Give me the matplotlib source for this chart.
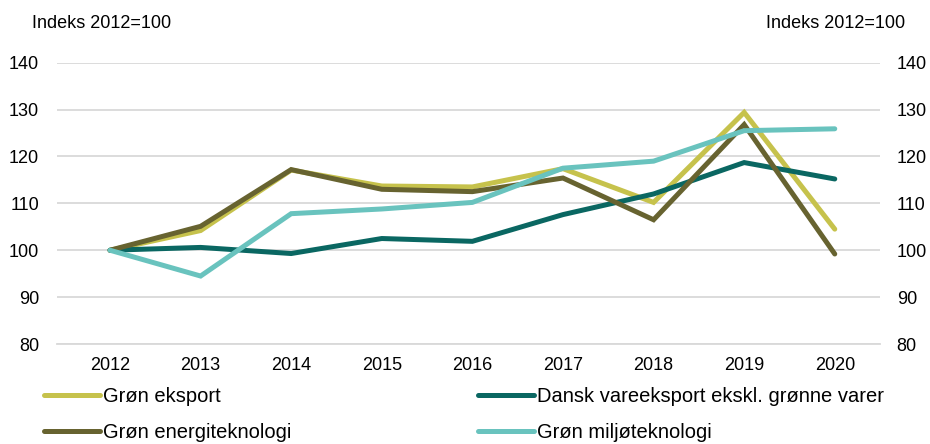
import matplotlib
matplotlib.use("Agg")
import matplotlib.pyplot as plt
import numpy as np

plt.rcParams["font.family"] = ["Liberation Sans", "DejaVu Sans"]

years = ["2012", "2013", "2014", "2015", "2016", "2017", "2018", "2019", "2020"]
gron_eksport = [100, 104.2, 117.1, 113.7, 113.5, 117.4, 110.2, 129.4, 104.5]
dansk_vare = [100, 100.6, 99.3, 102.5, 101.9, 107.6, 112.0, 118.7, 115.2]
energitek = [100, 105.1, 117.2, 113.0, 112.5, 115.4, 106.5, 126.8, 99.2]
miljotek = [100, 94.5, 107.8, 108.8, 110.2, 117.5, 119.0, 125.5, 125.9]
yticks = [80, 90, 100, 110, 120, 130, 140]

fig = plt.figure(figsize=(9.3, 4.44), dpi=100)
ax = fig.add_axes([0.0613, 0.2252, 0.885, 0.6336])

x = np.arange(len(years))
series = [
    ("Grøn eksport", gron_eksport, "#C6C24C"),
    ("Dansk vareeksport ekskl. grønne varer", dansk_vare, "#0A6762"),
    ("Grøn energiteknologi", energitek, "#676330"),
    ("Grøn miljøteknologi", miljotek, "#69C3BE"),
]
lines = {}
for label, vals, col in series:
    (ln,) = ax.plot(x, vals, color=col, linewidth=3.6, label=label,
                    solid_joinstyle="miter", solid_capstyle="round", zorder=3)
    lines[label] = ln

ax.set_xlim(-0.585, 8.5)
ax.set_ylim(80, 140)
ax.set_xticks(x)
ax.set_xticklabels(years)
ax.set_yticks(yticks)
ax.grid(True, axis="y", color="#D9D9D9", linewidth=1.3, zorder=0)
for s in ["top", "right", "left"]:
    ax.spines[s].set_visible(False)
ax.spines["bottom"].set_color("#D9D9D9")
ax.spines["bottom"].set_linewidth(1.3)
ax.tick_params(axis="both", length=0, labelsize=13, colors="black")
ax.tick_params(axis="x", pad=9)
ax.tick_params(axis="y", pad=13)

ax2 = ax.twinx()
ax2.set_ylim(80, 140)
ax2.set_yticks(yticks)
for s in ["top", "right", "left", "bottom"]:
    ax2.spines[s].set_visible(False)
ax2.tick_params(axis="y", length=0, labelsize=13, pad=12)

fig.text(0.0344, 0.948, "Indeks 2012=100", fontsize=13, ha="left", va="center")
fig.text(0.973, 0.948, "Indeks 2012=100", fontsize=13, ha="right", va="center")

# two one-column legends, row-wise like the original
legend_cols = [
    (["Grøn eksport", "Grøn energiteknologi"], 44 / 930),
    (["Dansk vareeksport ekskl. grønne varer", "Grøn miljøteknologi"], 478 / 930),
]
for names, xpos in legend_cols:
    leg = fig.legend([lines[n] for n in names], names, loc="upper left",
                     bbox_to_anchor=(xpos, 0.128), frameon=False, fontsize=14.5,
                     handlelength=2.8, handletextpad=0.12, labelspacing=0.85,
                     borderpad=0, borderaxespad=0)
    for h in leg.legend_handles:
        h.set_solid_capstyle("round")

fig.savefig("out.png", dpi=100)
